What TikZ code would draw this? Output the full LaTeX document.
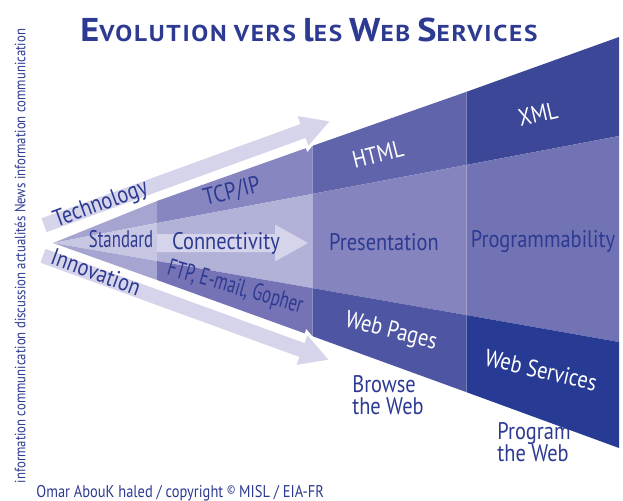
\documentclass[tikz,border=0pt]{standalone}
\usepackage{fontspec}
\setmainfont{PT Sans}[FakeStretch=0.85]
\newfontfamily\narrowfont{PT Sans}[FakeStretch=0.7]
\newfontfamily\titlefont{PT Sans}[FakeStretch=1.1,LetterSpace=7.5]
\definecolor{ink}{HTML}{2D3A91}
\definecolor{arrowc}{HTML}{D5D4EA}
\definecolor{c1t}{HTML}{A6A5D1}
\definecolor{c1m}{HTML}{C8C7E3}
\definecolor{c2t}{HTML}{8886C0}
\definecolor{c2m}{HTML}{B2B1D8}
\definecolor{c2b}{HTML}{7573B6}
\definecolor{c3t}{HTML}{6064AB}
\definecolor{c3m}{HTML}{8584BF}
\definecolor{c3b}{HTML}{4E55A3}
\definecolor{c4t}{HTML}{3C4797}
\definecolor{c4m}{HTML}{7273B4}
\definecolor{c4b}{HTML}{283B94}
% fake small caps for the heading
\newcommand\capword[2]{{\fontsize{16.5}{17}\selectfont #1}{\fontsize{11.5}{12}\selectfont\MakeUppercase{#2}}}
\begin{document}
\begin{tikzpicture}[x=0.5pt,y=-0.5pt,
  lbl/.style={text=ink,inner sep=0pt,font=\fontsize{12}{11}\selectfont},
  wlbl/.style={lbl,text=white,font=\fontsize{12}{12}\selectfont},
  narrow/.style={lbl,font=\narrowfont\fontsize{12}{12}\selectfont},
  side/.style={text=ink,inner sep=0pt,font=\fontsize{7.5}{8}\selectfont}]
\useasboundingbox (0,0) rectangle (623,500);

% captions below the funnel (drawn first, the funnel hides part of them)
\node[lbl,align=left] (browse) at (388,395) {Browse\\the Web};
\node[lbl,align=left] (program) at (534,442) {Program\\the Web};

% funnel: apex and column borders
\coordinate (apex) at (53,243);
\foreach \n/\x/\t/\u/\l/\b in {1/157/201/223/261/280,2/312/146/194/288/336,3/466/92/165/315/392,4/619/37/136/342/448}{
  \coordinate (t\n) at (\x,\t); \coordinate (u\n) at (\x,\u);
  \coordinate (l\n) at (\x,\l); \coordinate (b\n) at (\x,\b);}
\fill[c1t] (apex) -- (t1) -- (u1) -- cycle;
\fill[c1m] (apex) -- (u1) -- (l1) -- cycle;
\fill[c1t] (apex) -- (l1) -- (b1) -- cycle;
\foreach \i/\j/\ct/\cm/\cb in {1/2/c2t/c2m/c2b,2/3/c3t/c3m/c3b,3/4/c4t/c4m/c4b}{
  \fill[\ct] (t\i) -- (t\j) -- (u\j) -- (u\i) -- cycle;
  \fill[\cm] (u\i) -- (u\j) -- (l\j) -- (l\i) -- cycle;
  \fill[\cb] (l\i) -- (l\j) -- (b\j) -- (b\i) -- cycle;}
\draw[white,opacity=0.35,line width=0.5pt] (t2) -- (b2) (t3) -- (b3);

% broad arrows
\foreach \sx/\sy/\a/\len/\bd in {42.5/225.8/20/308.6/white,41.5/255.2/-20/308.6/white,157/243/0/151/none}
  \filldraw[fill=arrowc,draw=\bd,line width=1.5pt,shift={(\sx,\sy)},rotate=\a]
    (0,-9) -- (\len-33,-9) -- (\len-33,-18.5) -- (\len,0) -- (\len-33,18.5) -- (\len-33,9) -- (0,9) -- cycle;

% labels
\node[lbl,rotate=20] (tech) at (101,205) {Technology};
\node[lbl,rotate=-20] (innov) at (96,272) {Innovation};
\node[narrow] (std) at (121,239.5) {Standard};
\node[lbl] (conn) at (226,243) {Connectivity};
\node[lbl,rotate=14] (tcp) at (232,192) {TCP/IP};
\node[narrow,rotate=-16] (ftp) at (235,288) {FTP, E-mail, Gopher};
\node[wlbl,rotate=14] (html) at (378,154) {HTML};
\node[wlbl,rotate=13] (xml) at (538,114) {XML};
\node[lbl] (pres) at (384,242) {Presentation};
\node[lbl] (prog) at (543,242) {Programmability};
\node[wlbl,rotate=-14] (webp) at (391,332) {Web Pages};
\node[wlbl,rotate=-13] (webs) at (541,370) {Web Services};

% heading, side band and credit
\node[text=ink,inner sep=0pt,font=\titlefont\bfseries] (title) at (309,30)
  {\capword{E}{volution} \capword{}{vers} {\fontsize{16.5}{17}\selectfont l}\capword{}{es} \capword{W}{eb} \capword{S}{ervices}};
\node[side,rotate=90] (band) at (20,256) {information communication discussion actualités News information communication};
\node[side,font=\fontsize{8.5}{9}\selectfont,anchor=base west] (credit) at (36,497)
  {Omar AbouK haled / copyright {\fontsize{6}{6}\selectfont\raisebox{2pt}{©}} MISL / EIA-FR};
\end{tikzpicture}
\end{document}
